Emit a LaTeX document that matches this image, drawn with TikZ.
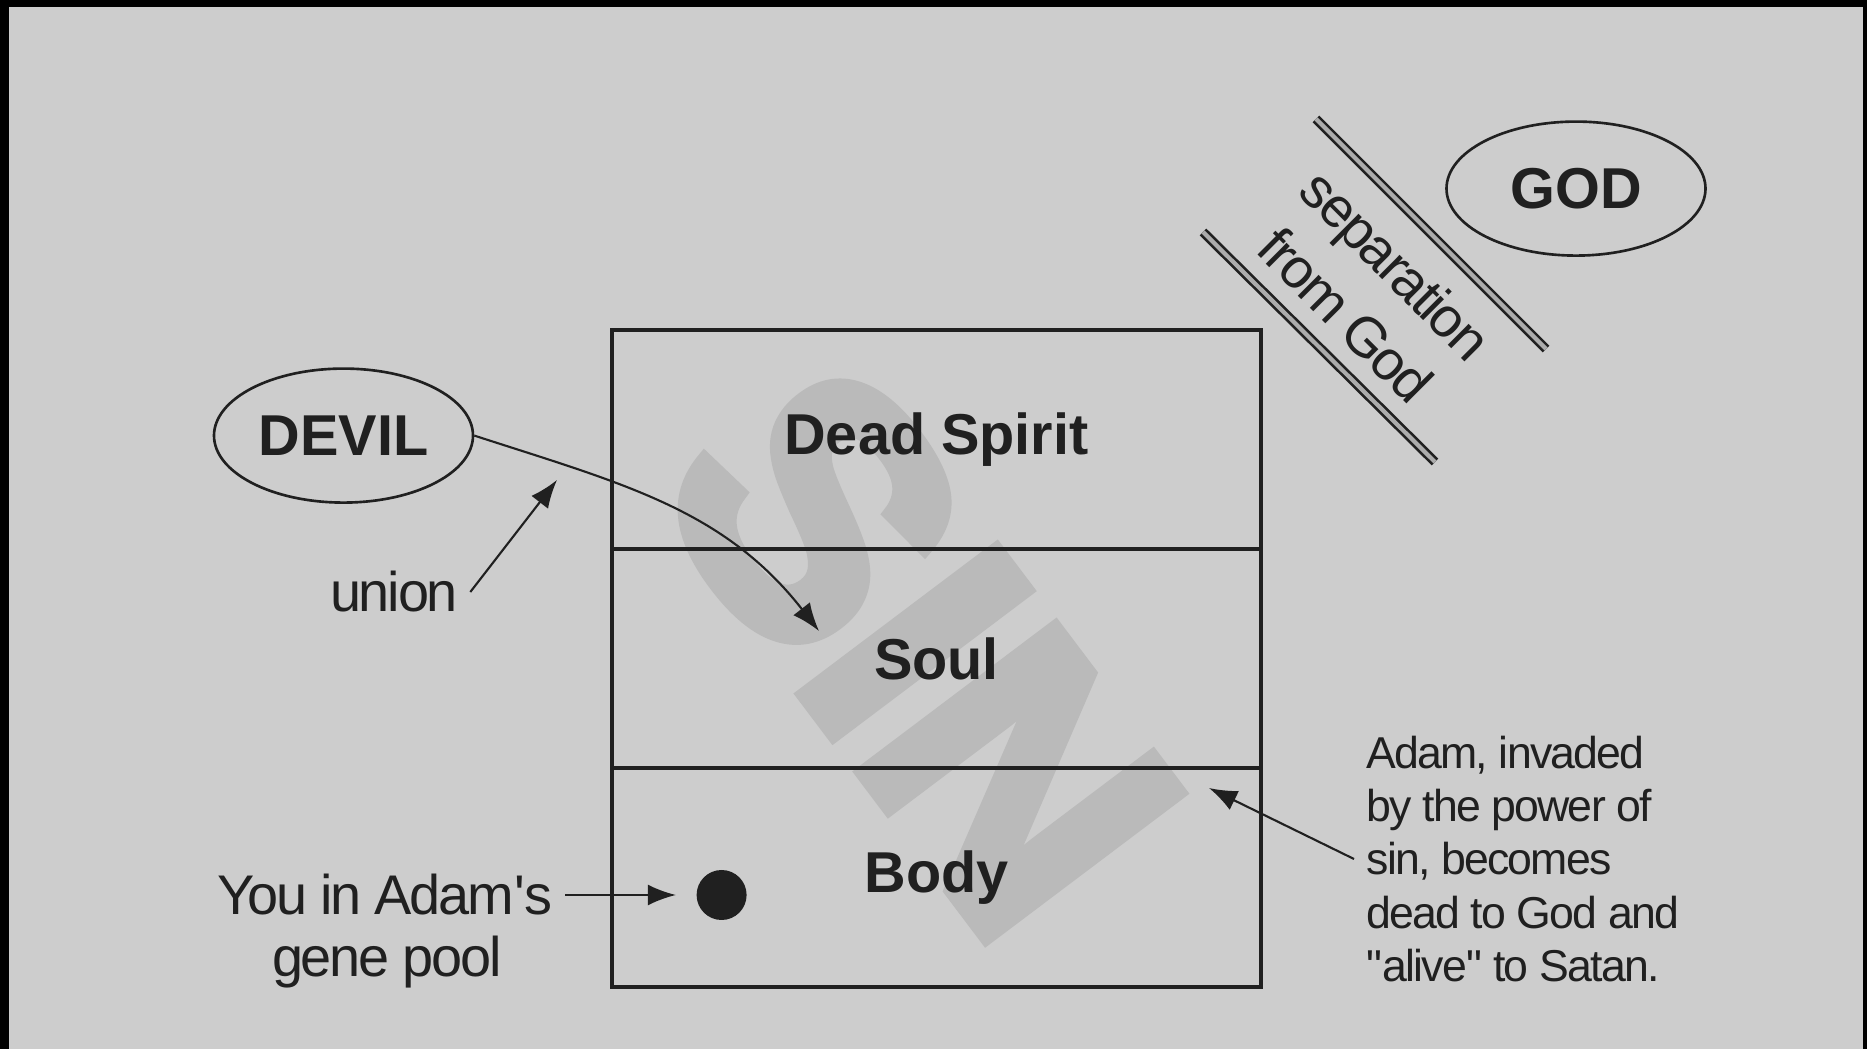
\documentclass[tikz,border=0pt]{standalone}
\usepackage{fontspec}
\setmainfont{Liberation Sans}
\newfontfamily\shadefont{Liberation Sans}[BoldFeatures={FakeBold=4}]
\usetikzlibrary{shapes}
\usetikzlibrary{positioning}
\usetikzlibrary{arrows.meta}

\definecolor{paper}{RGB}{205,205,205}
\definecolor{ink}{RGB}{32,32,32}
\definecolor{sinshade}{RGB}{186,186,186}

\tikzstyle{cell} = [rectangle, draw=ink, line width=0.9pt, outer sep=0pt, minimum width=6.49cm, minimum height=2.19cm, text=ink, font=\fontsize{16.4}{19}\selectfont\bfseries]
\tikzstyle{being} = [ellipse, draw=ink, line width=0.75pt, inner sep=0pt, minimum width=2.59cm, minimum height=1.34cm, text=ink, font=\fontsize{16.4}{19}\selectfont\bfseries]
\tikzstyle{gloss} = [text=ink, align=center, font=\fontsize{15.9}{20.3}\selectfont\addfontfeature{LetterSpace=-4}]
\tikzstyle{note} = [text=ink, align=left, font=\fontsize{12.7}{15.2}\selectfont\addfontfeature{LetterSpace=-4}]
\tikzstyle{wall} = [draw=ink, line width=0.75pt, double=gray!65, double distance=1.2pt]
\tikzstyle{pointer} = [->, draw=ink, line width=0.6pt]

\begin{document}
\begin{tikzpicture}[>={Latex[length=8pt,width=6pt]}]

    \useasboundingbox (0,0) rectangle (18.67,-10.49);
    \fill[black] (0,0) rectangle (18.67,-10.49);
    \fill[paper] (0.09,-0.07) rectangle (18.63,-10.49);

    % watermark behind the three parts
    \node[text=sinshade, rotate=-53, font=\fontsize{100}{104}\selectfont\shadefont\bfseries] (sinmark) at (9.21,-6.50) {SIN};

    \node[cell] (spirit) at (9.365,-4.395) {Dead Spirit};
    \node[cell, below=0pt of spirit] (soul) {Soul};
    \node[cell, below=0pt of soul] (body) {Body};

    \node[being] (devil) at (3.435,-4.356) {DEVIL};
    \node[being] (god) at (15.76,-1.886) {GOD};

    \draw[wall] (13.16,-1.19) -- (15.46,-3.49);
    \draw[wall] (12.03,-2.32) -- (14.35,-4.62);
    \node[gloss, rotate=-45] (separation) at (13.71,-2.90) {separation\\from God};

    \coordinate (soultip) at (8.19,-6.31);
    \draw[pointer] (devil.east) to[out=-18, in=128] (soultip);

    \coordinate (uniontip) at (5.57,-4.80);
    \node[gloss] (union) at (3.94,-5.92) {union};
    \draw[pointer] (union.east) -- (uniontip);

    \node[circle, fill=ink, inner sep=0pt, minimum size=0.5cm] (gene) at (7.216,-8.95) {};
    \node[gloss] (you) at (3.85,-8.95) {You in Adam\textquotesingle s};
    \node[gloss] (pool) at (3.87,-9.62) {gene pool};
    \draw[pointer, shorten >=0.2cm] (you.east) -- (gene);

    \coordinate (invadetip) at (12.09,-7.88);
    \node[note, anchor=west] (adam) at (13.54,-8.59) {Adam, invaded\\by the power of\\sin, becomes\\dead to God and\\\textquotedbl alive\textquotedbl{} to Satan.};
    \draw[pointer] (adam.west) -- (invadetip);

\end{tikzpicture}
\end{document}
